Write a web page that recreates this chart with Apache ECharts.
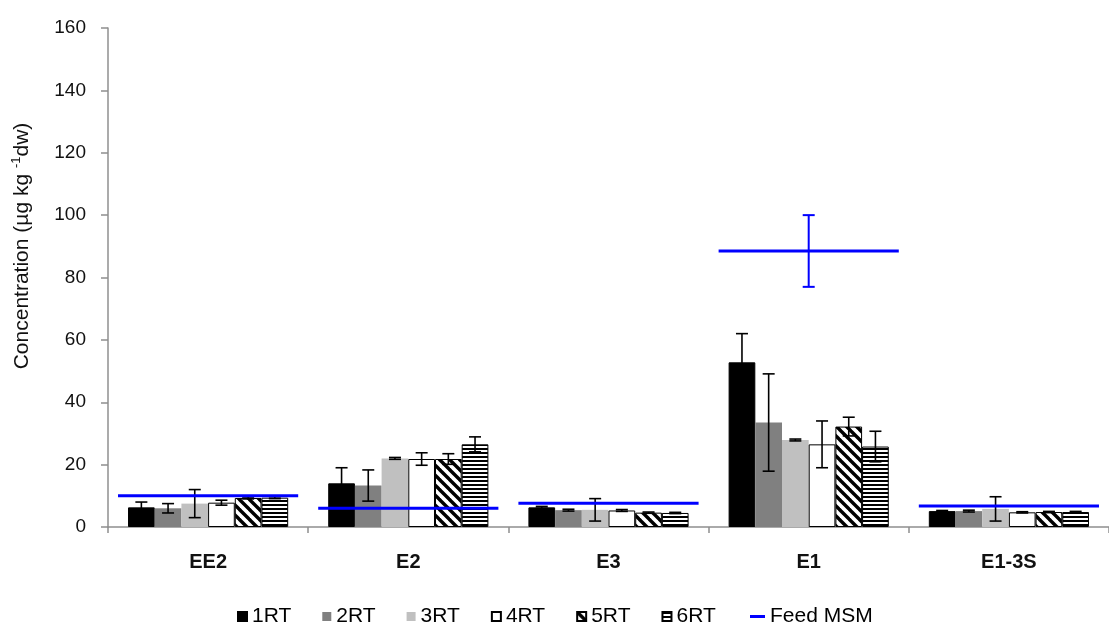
<!DOCTYPE html>
<html>
<head>
<meta charset="utf-8">
<script src="https://cdn.jsdelivr.net/npm/echarts@6/dist/echarts.min.js"></script>
<style>
  html, body { margin: 0; padding: 0; background: #ffffff; }
  #chart { width: 1109px; height: 628px; }
</style>
</head>
<body>
<div id="chart"></div>
<script>
// Compounds on the category axis
const categories = ['EE2', 'E2', 'E3', 'E1', 'E1-3S'];
// Reactor runs
const seriesNames = ['1RT', '2RT', '3RT', '4RT', '5RT', '6RT'];

// Mean concentrations (µg kg-1 dw) per run, in category order
const rt1 = [6.3, 14.0, 6.3, 52.8, 5.1];
const rt2 = [6.0, 13.3, 5.4, 33.5, 5.1];
const rt3 = [7.5, 22.0, 5.5, 27.9, 5.8];
const rt4 = [7.8, 21.8, 5.3, 26.5, 4.7];
const rt5 = [9.3, 21.8, 4.6, 32.2, 4.8];
const rt6 = [9.4, 26.5, 4.5, 25.8, 4.8];

// Standard deviations (half-length of each error bar)
const err1 = [1.7, 5.0, 0.3, 9.2, 0.2];
const err2 = [1.5, 5.0, 0.3, 15.6, 0.3];
const err3 = [4.5, 0.3, 3.6, 0.3, 3.9];
const err4 = [0.8, 2.0, 0.3, 7.5, 0.2];
const err5 = [0.3, 1.7, 0.2, 3.0, 0.2];
const err6 = [0.3, 2.4, 0.2, 4.9, 0.2];

// Feed MSM reference level and its deviation
const feedMSM = [10.0, 6.0, 7.6, 88.5, 6.7];
const feedErr = [0, 0, 0, 11.5, 0];

// Value axis ticks
const yMin = 0, yMax = 160, yStep = 20;

const runValues = [rt1, rt2, rt3, rt4, rt5, rt6];
const runErrors = [err1, err2, err3, err4, err5, err6];

// Fill patterns for the hatched runs
function diagonalPattern() {
  const c = document.createElement('canvas');
  c.width = 10; c.height = 10;
  const g = c.getContext('2d');
  g.fillStyle = '#ffffff'; g.fillRect(0, 0, 10, 10);
  g.strokeStyle = '#000000'; g.lineWidth = 3.4;
  [-10, 0, 10].forEach(function (k) {
    g.beginPath(); g.moveTo(k - 1, -1); g.lineTo(k + 11, 11); g.stroke();
  });
  return { image: c, repeat: 'repeat' };
}
function horizontalPattern() {
  const c = document.createElement('canvas');
  c.width = 4; c.height = 4;
  const g = c.getContext('2d');
  g.fillStyle = '#ffffff'; g.fillRect(0, 0, 4, 4);
  g.fillStyle = '#000000'; g.fillRect(0, 0, 4, 2);
  return { image: c, repeat: 'repeat' };
}

const barStyles = [
  { color: '#000000', borderColor: '#000000', borderWidth: 1 },
  { color: '#808080', borderWidth: 0 },
  { color: '#c0c0c0', borderWidth: 0 },
  { color: '#ffffff', borderColor: '#000000', borderWidth: 1 },
  { color: diagonalPattern(), borderColor: '#000000', borderWidth: 1 },
  { color: horizontalPattern(), borderColor: '#000000', borderWidth: 1 }
];

const nRuns = seriesNames.length;
const groupShare = 0.8; // matches barCategoryGap 20%

const barSeries = seriesNames.map(function (name, i) {
  return {
    name: name,
    type: 'bar',
    data: runValues[i],
    barGap: '0%',
    barCategoryGap: '20%',
    itemStyle: barStyles[i],
    emphasis: { disabled: true },
    z: 2
  };
});

// Error bar data: [category index, run index, value, deviation]
const errorData = [];
runValues.forEach(function (vals, i) {
  vals.forEach(function (v, c) { errorData.push([c, i, v, runErrors[i][c]]); });
});

const errorSeries = {
  name: 'errors',
  type: 'custom',
  z: 3,
  silent: true,
  encode: { x: 0, y: 2 },
  data: errorData,
  renderItem: function (params, api) {
    const c = api.value(0), k = api.value(1), v = api.value(2), e = api.value(3);
    const band = api.size([1, 0])[0];
    const bw = band * groupShare / nRuns;
    const cx = api.coord([c, 0])[0] + (k - (nRuns - 1) / 2) * bw;
    const yt = api.coord([c, v + e])[1];
    const yb = api.coord([c, Math.max(v - e, 0)])[1];
    const cap = 6;
    const st = { stroke: '#000000', lineWidth: 1.6 };
    return {
      type: 'group',
      children: [
        { type: 'line', shape: { x1: cx, y1: yt, x2: cx, y2: yb }, style: st },
        { type: 'line', shape: { x1: cx - cap, y1: yt, x2: cx + cap, y2: yt }, style: st },
        { type: 'line', shape: { x1: cx - cap, y1: yb, x2: cx + cap, y2: yb }, style: st }
      ]
    };
  }
};

const feedData = feedMSM.map(function (v, c) { return [c, v, feedErr[c]]; });

const feedSeries = {
  name: 'Feed MSM',
  type: 'custom',
  z: 4,
  silent: true,
  itemStyle: { color: '#0000ff' },
  encode: { x: 0, y: 1 },
  data: feedData,
  renderItem: function (params, api) {
    const c = api.value(0), v = api.value(1), e = api.value(2);
    const band = api.size([1, 0])[0];
    const p = api.coord([c, v]);
    const half = band * 0.45;
    const children = [
      { type: 'line', shape: { x1: p[0] - half, y1: p[1], x2: p[0] + half, y2: p[1] },
        style: { stroke: '#0000ff', lineWidth: 3 } }
    ];
    if (e > 0) {
      const yt = api.coord([c, v + e])[1];
      const yb = api.coord([c, v - e])[1];
      const st = { stroke: '#0000ff', lineWidth: 2 };
      children.push(
        { type: 'line', shape: { x1: p[0], y1: yt, x2: p[0], y2: yb }, style: st },
        { type: 'line', shape: { x1: p[0] - 6, y1: yt, x2: p[0] + 6, y2: yt }, style: st },
        { type: 'line', shape: { x1: p[0] - 6, y1: yb, x2: p[0] + 6, y2: yb }, style: st }
      );
    }
    return { type: 'group', children: children };
  }
};

const axisGray = '#8f8f8f';
const font = 'Arial, "Liberation Sans", sans-serif';

const chart = echarts.init(document.getElementById('chart'), null, { renderer: 'canvas' });
chart.setOption({
  animation: false,
  backgroundColor: '#ffffff',
  grid: { left: 108, top: 28, width: 1007, height: 499, containLabel: false },
  xAxis: {
    type: 'category',
    data: categories,
    boundaryGap: true,
    axisLine: { lineStyle: { color: axisGray, width: 1.5 } },
    axisTick: { show: true, length: 6, lineStyle: { color: axisGray, width: 1.5 } },
    axisLabel: { margin: 25, fontSize: 20, fontWeight: 'bold', color: '#111111', fontFamily: font },
    splitLine: { show: false }
  },
  yAxis: {
    type: 'value',
    min: yMin, max: yMax, interval: yStep,
    axisLine: { show: true, lineStyle: { color: axisGray, width: 1.5 } },
    axisTick: { show: true, length: 7, lineStyle: { color: axisGray, width: 1.5 } },
    axisLabel: { margin: 22, fontSize: 19, color: '#111111', fontFamily: font },
    splitLine: { show: false }
  },
  legend: [
    {
      data: seriesNames,
      icon: 'rect',
      itemWidth: 9, itemHeight: 9,
      itemGap: 31,
      left: 237, top: 606,
      padding: 0,
      selectedMode: false,
      textStyle: { fontSize: 21, color: '#000000', fontFamily: font }
    },
    {
      data: [{ name: 'Feed MSM', itemStyle: { color: '#0000ff', borderWidth: 0 } }],
      icon: 'rect',
      itemWidth: 15, itemHeight: 3,
      left: 750, top: 606,
      padding: 0,
      selectedMode: false,
      textStyle: { fontSize: 21, color: '#000000', fontFamily: font }
    }
  ],
  graphic: [
    {
      type: 'text',
      x: 22, y: 246,
      rotation: Math.PI / 2,
      silent: true,
      style: {
        text: '{a|Concentration (µg kg }{s|-1}{a|dw)}',
        align: 'center',
        verticalAlign: 'middle',
        fill: '#111111',
        rich: {
          a: { fontSize: 21, fontFamily: font, fill: '#111111', lineHeight: 24 },
          s: { fontSize: 13, fontFamily: font, fill: '#111111', lineHeight: 24, verticalAlign: 'top' }
        }
      }
    }
  ],
  series: barSeries.concat([errorSeries, feedSeries])
});
</script>
</body>
</html>
